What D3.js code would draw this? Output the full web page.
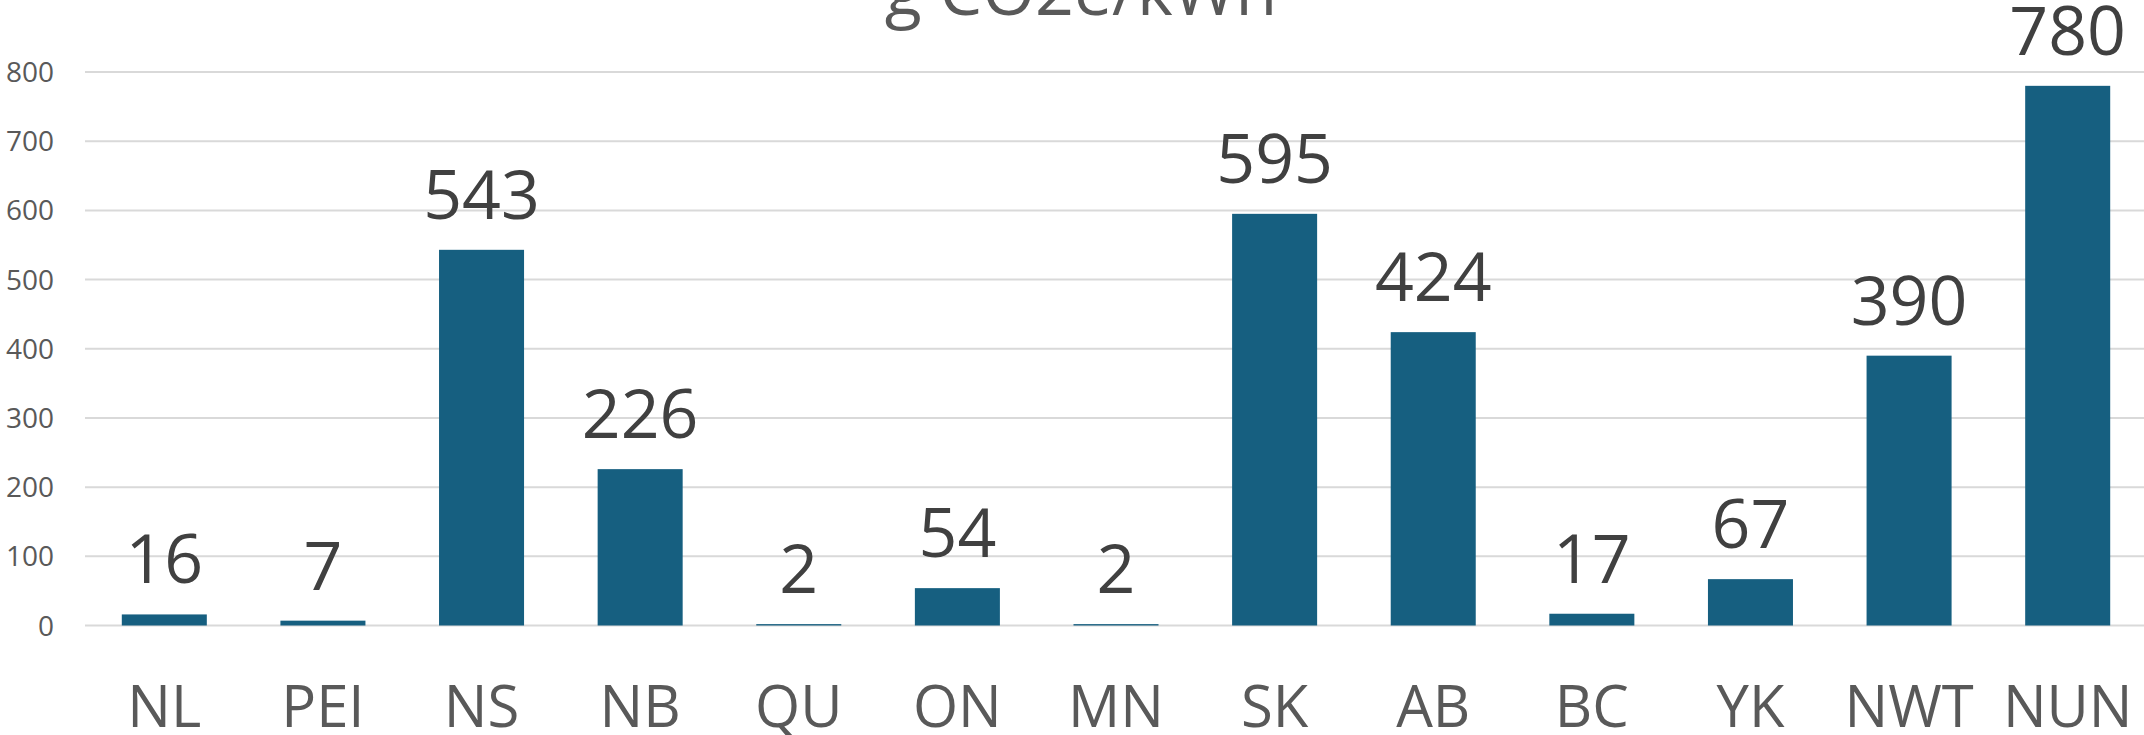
<!DOCTYPE html>
<html>
<head>
<meta charset="utf-8">
<script src="https://cdn.jsdelivr.net/npm/d3@7"></script>
<style>
  body { margin: 0; background: #fff; }
  svg { display: block; font-family: "Open Sans", "Noto Sans", sans-serif; }
</style>
</head>
<body>
<div id="vis"></div>
<script>
// provinces / territories
var categories = ["NL", "PEI", "NS", "NB", "QU", "ON", "MN", "SK", "AB", "BC", "YK", "NWT", "NUN"];
// grid intensity, g CO2e/kWh
var values = [16, 7, 543, 226, 2, 54, 2, 595, 424, 17, 67, 390, 780];
var yTicks = [0, 100, 200, 300, 400, 500, 600, 700, 800];
var title = "g CO2e/kWh";

var width = 2144;
var height = 735;
var plotLeft = 85, plotRight = 2147;
var yBase = 625.5, yTop = 72;

var x = d3.scaleBand()
  .domain(categories)
  .range([plotLeft, plotRight])
  .paddingInner(0.464)
  .paddingOuter(0.232);

var y = d3.scaleLinear()
  .domain([0, 800])
  .range([yBase, yTop]);

var svg = d3.select("#vis").append("svg")
  .attr("width", width)
  .attr("height", height);

// gridlines
svg.append("g")
  .selectAll("line")
  .data(yTicks)
  .enter().append("line")
  .attr("x1", plotLeft)
  .attr("x2", width)
  .attr("y1", function (d) { return y(d); })
  .attr("y2", function (d) { return y(d); })
  .attr("stroke", "#d9d9d9")
  .attr("stroke-width", 2);

// y labels
svg.append("g")
  .selectAll("text")
  .data(yTicks)
  .enter().append("text")
  .attr("x", 54)
  .attr("y", function (d) { return y(d) + 10; })
  .attr("text-anchor", "end")
  .attr("fill", "#595959")
  .attr("font-size", 28)
  .text(function (d) { return d; });

// bars
svg.append("g")
  .selectAll("rect")
  .data(values)
  .enter().append("rect")
  .attr("x", function (d, i) { return x(categories[i]); })
  .attr("y", function (d) { return y(d); })
  .attr("width", x.bandwidth())
  .attr("height", function (d) { return yBase - y(d); })
  .attr("fill", "#165f80");

// value labels
svg.append("g")
  .selectAll("text")
  .data(values)
  .enter().append("text")
  .attr("x", function (d, i) { return x(categories[i]) + x.bandwidth() / 2; })
  .attr("y", function (d) { return y(d) - 31; })
  .attr("text-anchor", "middle")
  .attr("fill", "#404040")
  .attr("font-size", 68)
  .text(function (d) { return d; });

// category labels
svg.append("g")
  .selectAll("text")
  .data(categories)
  .enter().append("text")
  .attr("x", function (d) { return x(d) + x.bandwidth() / 2; })
  .attr("y", 727)
  .attr("text-anchor", "middle")
  .attr("fill", "#595959")
  .attr("font-size", 58)
  .text(function (d) { return d; });

// title (cut off at the top)
svg.append("text")
  .attr("x", 1081)
  .attr("y", 15)
  .attr("text-anchor", "middle")
  .attr("fill", "#595959")
  .attr("font-size", 68)
  .text(title);
</script>
</body>
</html>
